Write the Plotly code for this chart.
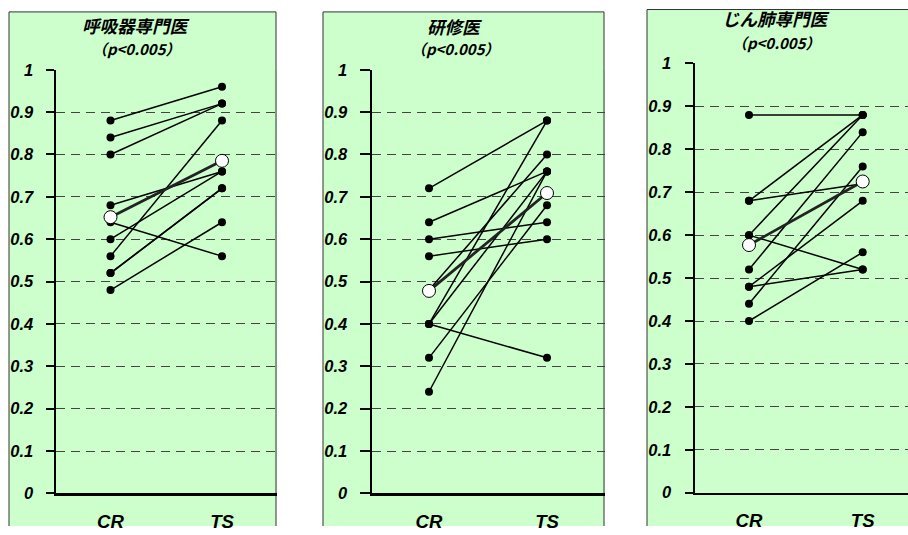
import plotly.graph_objects as go

W, H = 908, 535

categories = ["CR", "TS"]
titles = ["呼吸器専門医", "研修医", "じん肺専門医"]
subtitle = "（p&lt;0.005）"
y_tickvals = [0, 0.1, 0.2, 0.3, 0.4, 0.5, 0.6, 0.7, 0.8, 0.9, 1]
y_ticktext = ["0", "0.1", "0.2", "0.3", "0.4", "0.5", "0.6", "0.7", "0.8", "0.9", "1"]

# 呼吸器専門医
resp_cr = [0.88, 0.84, 0.80, 0.68, 0.64, 0.60, 0.56, 0.52, 0.52, 0.48]
resp_ts = [0.96, 0.92, 0.92, 0.76, 0.56, 0.76, 0.88, 0.72, 0.72, 0.64]
resp_mean = [0.652, 0.785]

# 研修医
res_cr = [0.72, 0.64, 0.60, 0.56, 0.48, 0.40, 0.40, 0.40, 0.32, 0.24]
res_ts = [0.88, 0.76, 0.64, 0.60, 0.80, 0.32, 0.88, 0.76, 0.68, 0.76]
res_mean = [0.478, 0.709]

# じん肺専門医
pn_cr = [0.88, 0.68, 0.68, 0.60, 0.60, 0.52, 0.48, 0.48, 0.44, 0.40]
pn_ts = [0.88, 0.88, 0.72, 0.88, 0.52, 0.84, 0.68, 0.52, 0.76, 0.56]
pn_mean = [0.577, 0.725]

panels = [
    dict(cr=resp_cr, ts=resp_ts, mean=resp_mean, title=titles[0]),
    dict(cr=res_cr, ts=res_ts, mean=res_mean, title=titles[1]),
    dict(cr=pn_cr, ts=pn_ts, mean=pn_mean, title=titles[2]),
]

# vertical correction for the capture (measured: it shrinks the page slightly)
VS, VO = 1.0316, -7.30


def fx(x):
    return min(max(x / W, 0.0), 1.0)


def fy(y):
    page = VS * y + VO
    return min(max(1 - page / H, 0.0), 1.0)


def sz(s):
    return s * VS


# geometry in reference pixels
geo = [
    dict(px0=56, px1=277, ytop=68, ybot=493, cr=110.5, ts=222, box=(9, 10, 276),
         tlx=136, t1y=24, t2y=47, tlen=8, standoff=9),
    dict(px0=372, px1=605, ytop=68, ybot=493, cr=429, ts=547, box=(323, 10, 604),
         tlx=455, t1y=25, t2y=47, tlen=10, standoff=9),
    dict(px0=695, px1=908, ytop=61.7, ybot=492.3, cr=749, ts=862.7, box=(647, 3, None),
         tlx=776, t1y=17, t2y=41, tlen=8, standoff=10),
]

GREEN = "#CCFFCC"
BORDER = "#333333"
fig = go.Figure()
shapes = []
annotations = []
layout = {}

tickfont = dict(family="Liberation Sans, Arial, sans-serif", size=sz(16), color="black",
                weight="bold", style="italic")
catfont = dict(family="Liberation Sans, Arial, sans-serif", size=sz(18), color="black",
               weight="bold", style="italic")

for i, (p, g) in enumerate(zip(panels, geo)):
    n = "" if i == 0 else str(i + 1)
    xa, ya = "x" + n, "y" + n
    for c, t in zip(p["cr"], p["ts"]):
        fig.add_trace(go.Scatter(
            x=categories, y=[c, t], xaxis=xa, yaxis=ya, mode="lines+markers",
            line=dict(color="black", width=1.5),
            marker=dict(color="black", size=8), showlegend=False, hoverinfo="skip"))
    fig.add_trace(go.Scatter(
        x=categories, y=p["mean"], xaxis=xa, yaxis=ya, mode="lines+markers",
        line=dict(color="#222222", width=2.8),
        marker=dict(color="white", size=13, line=dict(color="black", width=1)),
        showlegend=False, hoverinfo="skip"))

    unit = g["ts"] - g["cr"]
    xr = [-(g["cr"] - g["px0"]) / unit, 1 + (g["px1"] - g["ts"]) / unit]
    layout["xaxis" + n] = dict(
        domain=[fx(g["px0"]), fx(g["px1"])], anchor=ya, type="category",
        range=xr, showgrid=False, zeroline=False, showline=True, linecolor="black",
        linewidth=2.5, ticks="", tickfont=catfont, ticklabelstandoff=10, fixedrange=True)
    layout["yaxis" + n] = dict(
        domain=[fy(g["ybot"]), fy(g["ytop"])], anchor=xa, range=[0, 1],
        tickmode="array", tickvals=y_tickvals, ticktext=y_ticktext,
        showgrid=True, gridcolor="#444444", gridwidth=1, griddash="9px,6px",
        zeroline=False, showline=True, linecolor="black", linewidth=2.5,
        ticks="outside", ticklen=g["tlen"], tickwidth=2, tickcolor="black",
        tickfont=tickfont, ticklabelstandoff=g["standoff"], fixedrange=True)

    bx0, by0, bx1 = g["box"]
    left = fx(bx0)
    right = 1.0 if bx1 is None else fx(bx1)
    top = min(fy(by0), 0.999)
    shapes.append(dict(type="rect", xref="paper", yref="paper",
                       x0=left, x1=right, y0=0, y1=top,
                       fillcolor=GREEN, line=dict(width=0), layer="below"))
    shapes.append(dict(type="line", xref="paper", yref="paper",
                       x0=left, x1=left, y0=0, y1=top,
                       line=dict(color=BORDER, width=1), layer="below"))
    shapes.append(dict(type="line", xref="paper", yref="paper",
                       x0=left, x1=right, y0=top, y1=top,
                       line=dict(color=BORDER, width=1), layer="below"))
    if bx1 is not None:
        shapes.append(dict(type="line", xref="paper", yref="paper",
                           x0=right, x1=right, y0=0, y1=top,
                           line=dict(color=BORDER, width=1), layer="below"))
    annotations.append(dict(
        text="<b><i>" + p["title"] + "</i></b>", xref="paper", yref="paper",
        x=fx(g["tlx"]), y=fy(g["t1y"]), xanchor="center", yanchor="middle",
        showarrow=False,
        font=dict(family="Noto Sans CJK JP, sans-serif", size=sz(17), color="black")))
    annotations.append(dict(
        text="<b><i>" + subtitle + "</i></b>", xref="paper", yref="paper",
        x=fx(g["tlx"]), y=fy(g["t2y"]), xanchor="center", yanchor="middle",
        showarrow=False,
        font=dict(family="Noto Sans CJK JP, sans-serif", size=sz(14.5), color="black")))

fig.update_layout(
    width=W, height=H, margin=dict(l=0, r=0, t=0, b=0),
    paper_bgcolor="white", plot_bgcolor=GREEN,
    shapes=shapes, annotations=annotations, showlegend=False, **layout)

fig.write_html(
    "out.html",
    config={"displayModeBar": False, "staticPlot": True},
    post_script=("var d=document.documentElement,b=document.body;"
                 "d.style.margin='0';d.style.padding='0';d.style.overflow='hidden';"
                 "b.style.margin='0';b.style.padding='0';b.style.overflow='hidden';"
                 "b.style.fontSize='0';b.style.lineHeight='0';"
                 "var g=document.getElementById('{plot_id}');"
                 "g.style.position='absolute';g.style.left='0';g.style.top='0';"))
